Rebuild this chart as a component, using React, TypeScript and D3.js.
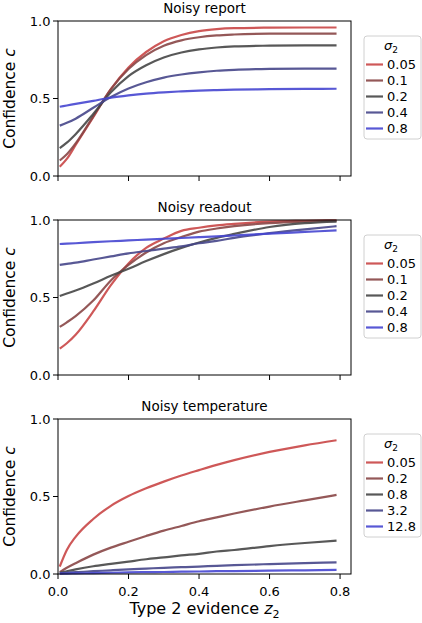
import { useEffect } from "react";
import * as d3 from "d3";

// evidence grid
const xs = [0.005, 0.025, 0.05, 0.1, 0.15, 0.2, 0.25, 0.3, 0.35, 0.4, 0.45, 0.5, 0.6, 0.7, 0.79];

const titles = ["Noisy report", "Noisy readout", "Noisy temperature"];
const legendLabels = [
  ["0.05", "0.1", "0.2", "0.4", "0.8"],
  ["0.05", "0.1", "0.2", "0.4", "0.8"],
  ["0.05", "0.2", "0.8", "3.2", "12.8"],
];
const colors = ["#c94646", "#884646", "#464646", "#46468a", "#4646d0"];

const yTicks = [0, 0.5, 1];
const xTicks = [0, 0.2, 0.4, 0.6, 0.8];

const reportSeries = [
  [0.06, 0.11, 0.2, 0.38, 0.56, 0.7, 0.8, 0.87, 0.91, 0.935, 0.948, 0.954, 0.957, 0.958, 0.958],
  [0.1, 0.14, 0.21, 0.385, 0.56, 0.69, 0.78, 0.84, 0.875, 0.895, 0.907, 0.913, 0.918, 0.919, 0.919],
  [0.18, 0.215, 0.27, 0.4, 0.54, 0.645, 0.715, 0.765, 0.797, 0.817, 0.829, 0.836, 0.841, 0.843, 0.843],
  [0.325, 0.343, 0.37, 0.44, 0.51, 0.565, 0.605, 0.635, 0.655, 0.669, 0.679, 0.685, 0.691, 0.693, 0.693],
  [0.447, 0.455, 0.465, 0.485, 0.505, 0.52, 0.532, 0.54, 0.546, 0.551, 0.554, 0.557, 0.56, 0.562, 0.563],
];

const readoutSeries = [
  [0.17, 0.205, 0.26, 0.41, 0.58, 0.72, 0.82, 0.88, 0.93, 0.95, 0.965, 0.975, 0.99, 0.995, 0.998],
  [0.31, 0.34, 0.38, 0.48, 0.61, 0.71, 0.79, 0.85, 0.89, 0.925, 0.945, 0.96, 0.98, 0.99, 0.995],
  [0.51, 0.526, 0.545, 0.59, 0.64, 0.685, 0.735, 0.78, 0.82, 0.855, 0.885, 0.91, 0.955, 0.98, 0.99],
  [0.71, 0.717, 0.725, 0.745, 0.765, 0.785, 0.8, 0.815, 0.83, 0.85, 0.865, 0.885, 0.915, 0.94, 0.96],
  [0.845, 0.847, 0.85, 0.857, 0.863, 0.868, 0.874, 0.879, 0.884, 0.889, 0.894, 0.9, 0.912, 0.923, 0.933],
];

const temperatureSeries = [
  [0.048, 0.155, 0.24, 0.355, 0.44, 0.503, 0.553, 0.596, 0.635, 0.67, 0.704, 0.735, 0.788, 0.83, 0.863],
  [0.012, 0.04, 0.07, 0.125, 0.17, 0.208, 0.245, 0.28, 0.31, 0.34, 0.365, 0.39, 0.435, 0.475, 0.51],
  [0.008, 0.018, 0.03, 0.05, 0.065, 0.08, 0.095, 0.107, 0.12, 0.13, 0.145, 0.155, 0.18, 0.2, 0.215],
  [0.004, 0.008, 0.012, 0.018, 0.024, 0.03, 0.035, 0.04, 0.044, 0.048, 0.053, 0.057, 0.064, 0.07, 0.075],
  [0.002, 0.003, 0.004, 0.006, 0.008, 0.01, 0.012, 0.013, 0.015, 0.016, 0.018, 0.019, 0.022, 0.024, 0.026],
];

const panels = [reportSeries, readoutSeries, temperatureSeries];

const W = 422;
const H = 623;
const left = 58;
const right = 351;
const tops = [21, 220, 419];
const panelHeight = 155;
const font = "DejaVu Sans, sans-serif";

export default function App() {
  useEffect(() => {
    document.body.style.margin = "0";
  }, []);

  const x = d3.scaleLinear().domain([0, 0.831]).range([left, right]);

  return (
    <svg width={W} height={H} style={{ display: "block", background: "#fff" }} fontFamily={font}>
      {panels.map((series, p) => {
        const top = tops[p];
        const bottom = top + panelHeight;
        const y = d3.scaleLinear().domain([0, 1]).range([bottom, top]);
        const line = d3
          .line<number>()
          .x((_, i) => x(xs[i]))
          .y((v) => y(v))
          .curve(d3.curveMonotoneX);
        const mid = (top + bottom) / 2;
        const lx = 364;
        const ly = top + 15;
        return (
          <g key={p}>
            {series.map((vals, k) => (
              <path
                key={k}
                d={line(vals) ?? ""}
                fill="none"
                stroke={colors[k]}
                strokeOpacity={0.9}
                strokeWidth={2.2}
              />
            ))}
            <rect x={left} y={top} width={right - left} height={panelHeight} fill="none" stroke="#000" strokeWidth={1} />
            {yTicks.map((t) => (
              <g key={t}>
                <line x1={left - 5} x2={left} y1={y(t)} y2={y(t)} stroke="#000" />
                <text x={left - 7.5} y={y(t)} dy="0.35em" textAnchor="end" fontSize={13}>
                  {t.toFixed(1)}
                </text>
              </g>
            ))}
            {xTicks.map((t) => (
              <g key={t}>
                <line x1={x(t)} x2={x(t)} y1={bottom} y2={bottom + 5} stroke="#000" />
                {p === panels.length - 1 ? (
                  <text x={x(t)} y={bottom + 22} textAnchor="middle" fontSize={13}>
                    {t.toFixed(1)}
                  </text>
                ) : null}
              </g>
            ))}
            <text x={(left + right) / 2} y={top - 8} textAnchor="middle" fontSize={13.5}>
              {titles[p]}
            </text>
            <text transform={`translate(15,${mid}) rotate(-90)`} textAnchor="middle" fontSize={15.5}>
              Confidence <tspan fontStyle="italic">c</tspan>
            </text>
            <rect x={lx} y={ly} width={57} height={103} rx={3} fill="#fff" fillOpacity={0.8} stroke="#d0d0d0" />
            <text x={lx + 27} y={ly + 14} textAnchor="middle" fontSize={13}>
              <tspan fontStyle="italic">σ</tspan>
              <tspan fontSize={9} dy={3}>2</tspan>
            </text>
            {legendLabels[p].map((lab, k) => (
              <g key={lab}>
                <line
                  x1={lx + 2}
                  x2={lx + 19}
                  y1={ly + 28.5 + k * 16}
                  y2={ly + 28.5 + k * 16}
                  stroke={colors[k]}
                  strokeOpacity={0.9}
                  strokeWidth={2.2}
                />
                <text x={lx + 23} y={ly + 28.5 + k * 16} dy="0.36em" fontSize={13}>
                  {lab}
                </text>
              </g>
            ))}
          </g>
        );
      })}
      <text x={(left + right) / 2} y={614} textAnchor="middle" fontSize={16}>
        Type 2 evidence <tspan fontStyle="italic">z</tspan>
        <tspan fontSize={11} dy={4}>2</tspan>
      </text>
    </svg>
  );
}
